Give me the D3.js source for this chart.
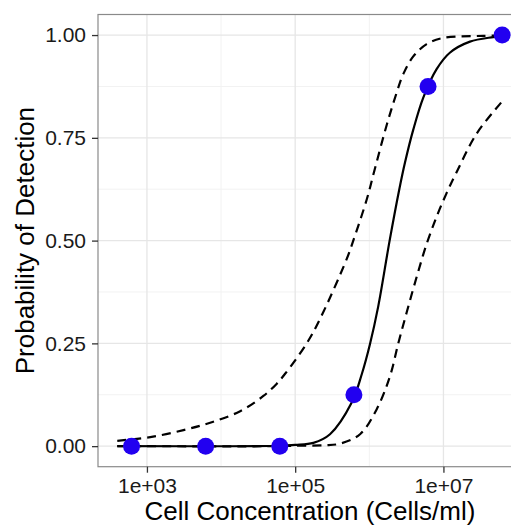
<!DOCTYPE html>
<html>
<head>
<meta charset="utf-8">
<script src="https://cdn.jsdelivr.net/npm/d3@7"></script>
<style>
  html, body { margin: 0; padding: 0; background: #fff; }
  svg { display: block; }
  text { font-family: "Liberation Sans", Arial, Helvetica, sans-serif; }
</style>
</head>
<body>
<svg id="chart" width="511" height="528"></svg>
<script>
// ---- data ----
const pointConc = [620, 6200, 62000, 620000, 6200000, 62000000];
const pointProb = [0, 0, 0, 0.125, 0.875, 1.0];

const fitConc = [398, 6.27e4, 1.0e5, 1.76e5, 2.95e5, 5.79e5, 7.91e5, 1.02e6, 1.32e6, 1.88e6, 2.54e6, 3.03e6, 3.92e6, 5.35e6, 8.09e6, 1.22e7, 2.28e7, 4.69e7, 6.31e7];
const fitProb = [0, 0.001, 0.003, 0.008, 0.029, 0.106, 0.175, 0.248, 0.34, 0.5, 0.625, 0.69, 0.77, 0.848, 0.917, 0.957, 0.984, 0.995, 0.998];

const upperConc = [398, 1.11e3, 3.11e3, 7.13e3, 1.81e4, 3.72e4, 5.65e4, 7.31e4, 1.43e5, 2.17e5, 4.95e5, 6.08e5, 9.23e5, 1.19e6, 1.71e6, 2.34e6, 2.87e6, 3.92e6, 5.94e6, 9.93e6, 3.44e7, 6.31e7];
const upperProb = [0.013, 0.022, 0.039, 0.057, 0.085, 0.122, 0.152, 0.176, 0.25, 0.31, 0.455, 0.5, 0.6, 0.675, 0.78, 0.86, 0.905, 0.948, 0.978, 0.993, 0.998, 0.999];

const lowerConc = [398, 6.27e4, 9.46e4, 2.5e5, 4.03e5, 7.5e5, 1.26e6, 1.9e6, 2.46e6, 3.19e6, 4.36e6, 5.94e6, 8.09e6, 1.1e7, 1.51e7, 2.8e7, 5.77e7, 6.31e7];
const lowerProb = [0, 0, 0.001, 0.002, 0.006, 0.029, 0.09, 0.17, 0.25, 0.325, 0.412, 0.492, 0.558, 0.615, 0.667, 0.76, 0.832, 0.84];

const xTicks = [1e3, 1e5, 1e7];
const xTickLabels = ["1e+03", "1e+05", "1e+07"];
const xMinor = [1e4, 1e6, 1e8];
const yTicks = [0, 0.25, 0.5, 0.75, 1.0];
const yTickLabels = ["0.00", "0.25", "0.50", "0.75", "1.00"];
const yMinor = [0.125, 0.375, 0.625, 0.875];

const xTitle = "Cell Concentration (Cells/ml)";
const yTitle = "Probability of Detection";

// ---- layout ----
const panel = { left: 98, top: 14.5, right: 522, bottom: 466.7 };
const svg = d3.select("#chart");

const allConc = fitConc.concat(upperConc, lowerConc, pointConc);
const lmin = Math.log10(d3.min(allConc)), lmax = Math.log10(d3.max(allConc));
const pad = (lmax - lmin) * 0.05;
const x = d3.scaleLog()
  .domain([Math.pow(10, lmin - pad), Math.pow(10, lmax + pad)])
  .range([panel.left, panel.right]);
const y = d3.scaleLinear()
  .domain([-0.05, 1.05])
  .range([panel.bottom, panel.top]);

svg.append("defs").append("clipPath").attr("id", "pclip")
  .append("rect")
  .attr("x", panel.left).attr("y", panel.top)
  .attr("width", panel.right - panel.left).attr("height", panel.bottom - panel.top);

const grid = svg.append("g");
grid.selectAll("line.ymin").data(yMinor).join("line")
  .attr("x1", panel.left).attr("x2", panel.right)
  .attr("y1", d => y(d)).attr("y2", d => y(d))
  .attr("stroke", "#f2f2f2").attr("stroke-width", 1);
grid.selectAll("line.xmin").data(xMinor).join("line")
  .attr("y1", panel.top).attr("y2", panel.bottom)
  .attr("x1", d => x(d)).attr("x2", d => x(d))
  .attr("stroke", "#f2f2f2").attr("stroke-width", 1);
grid.selectAll("line.ymaj").data(yTicks).join("line")
  .attr("x1", panel.left).attr("x2", panel.right)
  .attr("y1", d => y(d)).attr("y2", d => y(d))
  .attr("stroke", "#e6e6e6").attr("stroke-width", 1.3);
grid.selectAll("line.xmaj").data(xTicks).join("line")
  .attr("y1", panel.top).attr("y2", panel.bottom)
  .attr("x1", d => x(d)).attr("x2", d => x(d))
  .attr("stroke", "#e6e6e6").attr("stroke-width", 1.3);

const line = d3.line()
  .x(d => x(d[0])).y(d => y(d[1]))
  .curve(d3.curveCatmullRom.alpha(0.5));
const plot = svg.append("g").attr("clip-path", "url(#pclip)");
const zip = (a, b) => a.map((v, i) => [v, b[i]]);

plot.append("path").datum(zip(upperConc, upperProb))
  .attr("d", line).attr("fill", "none").attr("stroke", "#000")
  .attr("stroke-width", 2.2).attr("stroke-dasharray", "9,6");
plot.append("path").datum(zip(lowerConc, lowerProb))
  .attr("d", line).attr("fill", "none").attr("stroke", "#000")
  .attr("stroke-width", 2.2).attr("stroke-dasharray", "9,6");
plot.append("path").datum(zip(fitConc, fitProb))
  .attr("d", line).attr("fill", "none").attr("stroke", "#000")
  .attr("stroke-width", 2.2);

plot.selectAll("circle").data(zip(pointConc, pointProb)).join("circle")
  .attr("cx", d => x(d[0])).attr("cy", d => y(d[1]))
  .attr("r", 8.5).attr("fill", "#2200f0");

svg.append("rect")
  .attr("x", panel.left).attr("y", panel.top)
  .attr("width", panel.right - panel.left).attr("height", panel.bottom - panel.top)
  .attr("fill", "none").attr("stroke", "#8a8a8a").attr("stroke-width", 1.2);

const xAxis = d3.axisBottom(x).tickValues(xTicks)
  .tickFormat((d, i) => xTickLabels[i]).tickSize(6).tickPadding(5);
const gx = svg.append("g").attr("transform", `translate(0,${panel.bottom})`).call(xAxis);
gx.select(".domain").remove();
gx.selectAll(".tick line").attr("stroke", "#333").attr("stroke-width", 1.3);
gx.selectAll(".tick text").attr("fill", "#1a1a1a").attr("font-size", 21)
  .attr("font-family", "Liberation Sans, Arial, sans-serif");

const yAxis = d3.axisLeft(y).tickValues(yTicks)
  .tickFormat((d, i) => yTickLabels[i]).tickSize(6).tickPadding(6);
const gy = svg.append("g").attr("transform", `translate(${panel.left},0)`).call(yAxis);
gy.select(".domain").remove();
gy.selectAll(".tick line").attr("stroke", "#333").attr("stroke-width", 1.3);
gy.selectAll(".tick text").attr("fill", "#1a1a1a").attr("font-size", 21)
  .attr("font-family", "Liberation Sans, Arial, sans-serif");

svg.append("text")
  .attr("x", (panel.left + panel.right) / 2).attr("y", 520)
  .attr("text-anchor", "middle").attr("font-size", 26).attr("fill", "#000")
  .text(xTitle);
svg.append("text")
  .attr("transform", `translate(34,${(panel.top + panel.bottom) / 2}) rotate(-90)`)
  .attr("text-anchor", "middle").attr("font-size", 26).attr("fill", "#000")
  .text(yTitle);
</script>
</body>
</html>
